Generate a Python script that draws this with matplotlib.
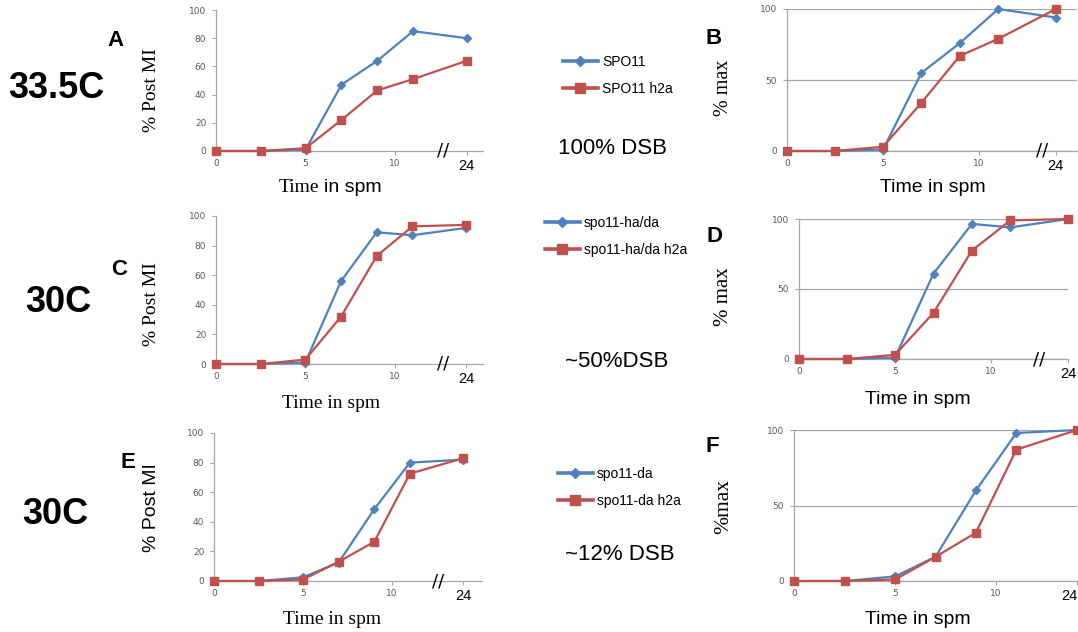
import matplotlib
matplotlib.use("Agg")
import matplotlib.pyplot as plt
from matplotlib.transforms import blended_transform_factory

W, H = 1078, 632
SERIF = "Liberation Serif"
SANS = "Liberation Sans"
BLUE = "#4F81BD"
RED = "#C0504D"
TICK_GRAY = "#595959"
AXIS_GRAY = "#A6A6A6"

# sampling times (hours in sporulation medium); the last one sits past an axis break
times = [0, 2.5, 5, 7, 9, 11, 24]
BREAK_POS = 14

# % post-MI cells, raw
a_spo11 = [0, 0, 1, 47, 64, 85, 80]
a_spo11_h2a = [0, 0, 2, 22, 43, 51, 64]
c_hada = [0, 0, 1, 56, 89, 87, 92]
c_hada_h2a = [0, 0, 3, 32, 73, 93, 94]
e_da = [0, 0, 2.5, 12.5, 48.5, 80, 82]
e_da_h2a = [0, 0, 1, 13, 26.5, 72.5, 83]

# same curves normalised to their maximum
b_spo11 = [0, 0, 1, 55, 76, 100, 94]
b_spo11_h2a = [0, 0, 3, 34, 67, 79, 100]
d_hada = [0, 0, 1, 61, 96.5, 94, 100]
d_hada_h2a = [0, 0, 3, 33, 77.5, 99, 100]
f_da = [0, 0, 3, 16, 60, 98, 100]
f_da_h2a = [0, 0, 1, 16, 32, 87, 100]

legend_a = ["SPO11", "SPO11 h2a"]
legend_c = ["spo11-ha/da", "spo11-ha/da h2a"]
legend_e = ["spo11-da", "spo11-da h2a"]

x_ticks = [0, 5, 10]


def axis_pos(t):
    return [v if v <= 11 else BREAK_POS for v in t]


def fx(x):
    return x / W


def fy(y):
    return 1 - y / H


fig = plt.figure(figsize=(W / 100, H / 100), dpi=100)


def panel(box, xmax, wt, h2a, yticks, grid, ylabel, ylabel_font, ylabel_size,
          ylabel_xy, xlabel_font, xlabel_xy, break_x=None, last_right=False):
    l, t, r, b = box
    ax = fig.add_axes([fx(l), fy(b), (r - l) / W, (b - t) / H])
    xs = axis_pos(times)
    ax.plot(xs, wt, color=BLUE, marker="D", ms=4.3, lw=1.6,
            clip_on=False, zorder=3)
    ax.plot(xs, h2a, color=RED, marker="s", ms=6.2, lw=1.6,
            clip_on=False, zorder=4)
    ax.set_xlim(0, xmax)
    ax.set_ylim(0, 100)
    for s in ("top", "right"):
        ax.spines[s].set_visible(False)
    for s in ("left", "bottom"):
        ax.spines[s].set_color(AXIS_GRAY)
        ax.spines[s].set_linewidth(0.9)
    ax.set_xticks(x_ticks + [BREAK_POS])
    ax.set_xticklabels([str(v) for v in x_ticks] + [str(times[-1])])
    ax.set_yticks(yticks)
    ax.tick_params(axis="both", colors=AXIS_GRAY, labelcolor=TICK_GRAY,
                   labelsize=6.5, length=3, width=0.8)
    ax.tick_params(axis="y", pad=4)
    ax.tick_params(axis="x", pad=3)
    for lab in ax.get_xticklabels() + ax.get_yticklabels():
        lab.set_family("DejaVu Sans")
    last = ax.get_xticklabels()[-1]
    last.set_fontsize(10.5)
    last.set_color("black")
    last.set_family(SANS)
    if last_right:
        last.set_horizontalalignment("right")
    if grid:
        ax.yaxis.grid(True, color=AXIS_GRAY, lw=0.9)
        ax.set_axisbelow(True)
    ax.set_ylabel(ylabel, family=ylabel_font, fontsize=ylabel_size)
    ax.yaxis.set_label_coords(fx(ylabel_xy[0]), fy(ylabel_xy[1]),
                              transform=fig.transFigure)
    if xlabel_font is not None:
        ax.set_xlabel("Time in spm", family=xlabel_font, fontsize=14)
        ax.xaxis.set_label_coords(fx(xlabel_xy[0]), fy(xlabel_xy[1]),
                                  transform=fig.transFigure)
        ax.xaxis.label.set_verticalalignment("center")
    if break_x is not None:
        tr = blended_transform_factory(ax.transData, ax.transAxes)
        ax.text(break_x, 0.0, "//", transform=tr, ha="center", va="center",
                fontsize=13, family="DejaVu Sans", color="black",
                clip_on=False)
    return ax


ax_a = panel((216, 10, 483, 151), 14.9, a_spo11, a_spo11_h2a,
             [0, 20, 40, 60, 80, 100], False, "% Post MI", SERIF, 14,
             (160, 90), None, None, break_x=12.7)
# mixed-font axis title for panel A
fig.text(fx(319), fy(188), "Time", family=SERIF, fontsize=14,
         ha="right", va="center")
fig.text(fx(324), fy(188), "in spm", family=SANS, fontsize=14,
         ha="left", va="center")

ax_b = panel((787, 9, 1077, 151), 15.1, b_spo11, b_spo11_h2a,
             [0, 50, 100], True, "% max", SERIF, 14.5,
             (733, 88), SANS, (933, 188), break_x=13.3)

ax_c = panel((216, 216, 483, 364), 14.95, c_hada, c_hada_h2a,
             [0, 20, 40, 60, 80, 100], False, "% Post MI", SERIF, 14,
             (160, 304), SERIF, (331, 404), break_x=12.7)

ax_d = panel((799, 219, 1068, 359), 13.95, d_hada, d_hada_h2a,
             [0, 50, 100], True, "% max", SERIF, 15,
             (733, 297), SANS, (918, 400), break_x=12.5)

ax_e = panel((214, 433, 482, 581), 15.05, e_da, e_da_h2a,
             [0, 20, 40, 60, 80, 100], False, "% Post MI", SANS, 14,
             (160, 508), SERIF, (332, 620), break_x=12.6)

ax_f = panel((794, 430, 1077, 581), 14.0, f_da, f_da_h2a,
             [0, 50, 100], True, "%max", SERIF, 15.5,
             (733, 507), SANS, (918, 620), last_right=True)


def legend(ax, labels, x_px, top_px):
    leg = fig.legend(ax.get_lines()[:2], labels, loc="upper left",
                     bbox_to_anchor=(fx(x_px), fy(top_px)),
                     frameon=False, borderpad=0, borderaxespad=0,
                     handlelength=2.5, handletextpad=0.3, labelspacing=0.95,
                     prop={"family": SANS, "size": 10})
    for h in leg.legend_handles:
        h.set_linewidth(2.6)
    leg.legend_handles[0].set_markersize(5)
    leg.legend_handles[1].set_markersize(7)
    return leg


legend(ax_a, legend_a, 563, 55)
legend(ax_c, legend_c, 545, 216)
legend(ax_e, legend_e, 558, 467)

# DSB levels
fig.text(fx(612), fy(148), "100% DSB", family=SANS, fontsize=16,
         ha="center", va="center")
fig.text(fx(617), fy(361), "~50%DSB", family=SANS, fontsize=16,
         ha="center", va="center")
fig.text(fx(620), fy(555), "~12% DSB", family=SANS, fontsize=16,
         ha="center", va="center")

# temperatures
for txt, x, y in [("33.5C", 8, 88), ("30C", 25, 303), ("30C", 22, 515)]:
    fig.text(fx(x), fy(y), txt, family=SANS, fontsize=26, weight="bold",
             ha="left", va="center")

# panel letters
for txt, x, y in [("A", 116, 40), ("B", 714, 38), ("C", 119, 269),
                  ("D", 715, 237), ("E", 128, 462), ("F", 712, 447)]:
    fig.text(fx(x), fy(y), txt, family=SANS, fontsize=16, weight="bold",
             ha="center", va="center")

fig.savefig("out.png", dpi=100)
